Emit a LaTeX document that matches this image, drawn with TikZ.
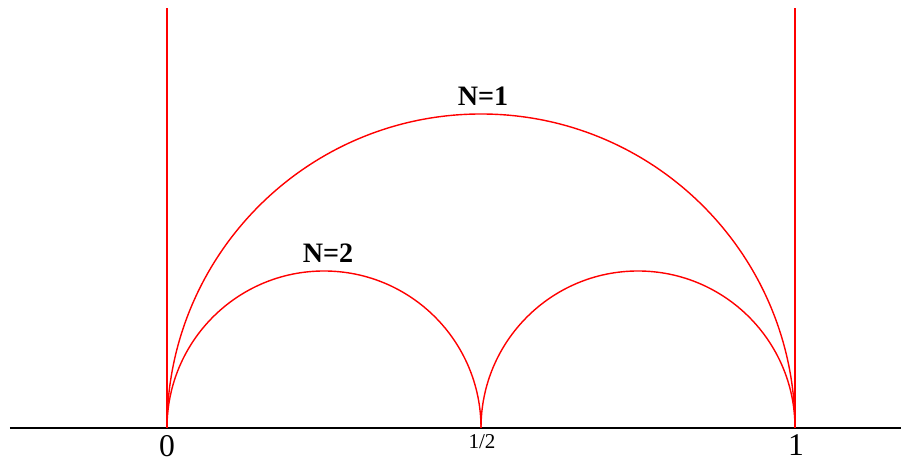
\documentclass[tikz,border=0pt]{standalone}
\usepackage{fontspec}
\setmainfont{Liberation Serif}
\usetikzlibrary{positioning}
\tikzset{
  axisln/.style ={line width=1.0pt, black},
  geod/.style   ={line width=0.8pt, red},
  ticklab/.style={font=\fontsize{18}{20}\selectfont, inner sep=0pt},
  halflab/.style={font=\fontsize{12}{14}\selectfont, inner sep=0pt},
  nlab/.style   ={font=\fontsize{16}{18}\selectfont\bfseries, inner sep=0pt},
}
\begin{document}
\begin{tikzpicture}
  \useasboundingbox (-3.34,-0.66) rectangle (14.68,8.56);
  \coordinate (left)  at (-3.14,0);
  \coordinate (right) at (14.68,0);
  \coordinate (p0)    at (0,0);
  \coordinate (ph)    at (6.28,0);
  \coordinate (p1)    at (12.56,0);
  \coordinate (t0)    at (0,8.4);
  \coordinate (t1)    at (12.56,8.4);
  % real line
  \draw[axisln] (left) -- (right);
  % vertical geodesics
  \draw[geod] (p0) -- (t0);
  \draw[geod] (p1) -- (t1);
  % semicircles
  \draw[geod] (p0) arc[start angle=180, end angle=0, radius=6.28];
  \draw[geod] (p0) arc[start angle=180, end angle=0, radius=3.14];
  \draw[geod] (ph) arc[start angle=180, end angle=0, radius=3.14];
  % labels
  \node[ticklab] (l0) at (0,-0.36)     {0};
  \node[halflab] (lh) at (6.30,-0.27)  {1/2};
  \node[ticklab] (l1) at (12.58,-0.34) {1};
  \node[nlab]    (n1) at (6.32,6.64)   {N=1};
  \node[nlab]    (n2) at (3.22,3.50)   {N=2};
\end{tikzpicture}
\end{document}
